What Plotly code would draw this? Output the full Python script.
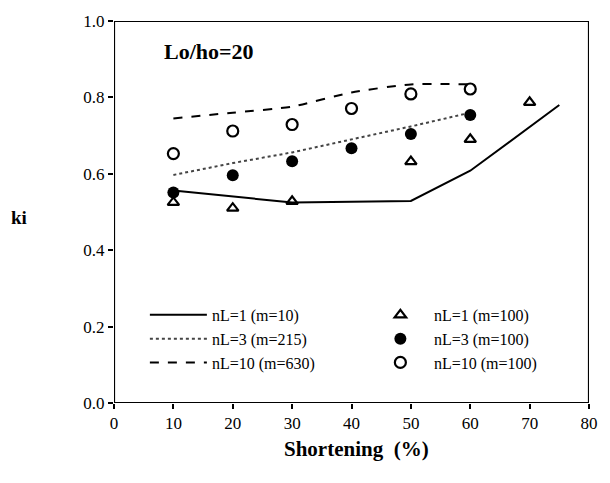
import plotly.graph_objects as go

# Model curves (lines)
x_nl1_line = [10, 30, 50, 60, 75]
y_nl1_line = [0.556, 0.525, 0.529, 0.608, 0.780]

x_nl3_line = [10, 20, 30, 40, 50, 60]
y_nl3_line = [0.597, 0.628, 0.656, 0.689, 0.724, 0.760]

x_nl10_line = [10, 20, 30, 40, 50, 60]
y_nl10_line = [0.745, 0.760, 0.776, 0.813, 0.834, 0.834]

# Simulation results (markers)
x_nl1_pts = [10, 20, 30, 50, 60, 70]
y_nl1_pts = [0.525, 0.510, 0.528, 0.632, 0.690, 0.787]

x_nl3_pts = [10, 20, 30, 40, 50, 60]
y_nl3_pts = [0.551, 0.596, 0.633, 0.667, 0.704, 0.754]

x_nl10_pts = [10, 20, 30, 40, 50, 60]
y_nl10_pts = [0.653, 0.712, 0.729, 0.771, 0.809, 0.822]

x_ticks = [0, 10, 20, 30, 40, 50, 60, 70, 80]
y_ticks = [0.0, 0.2, 0.4, 0.6, 0.8, 1.0]

SERIF = "Liberation Serif"
INK = "#000000"

x_range = [x_ticks[0], x_ticks[-1]]
y_range = [y_ticks[0], y_ticks[-1]]
x_step = x_ticks[1] - x_ticks[0]
y_step = y_ticks[1] - y_ticks[0]

fig = go.Figure()

# Box around the plotting area, traced along the axis limits
fig.add_trace(go.Scatter(
    x=[x_range[0], x_range[1], x_range[1], x_range[0], x_range[0]],
    y=[y_range[0], y_range[0], y_range[1], y_range[1], y_range[0]],
    mode="lines", line=dict(color=INK, width=2.2),
    cliponaxis=False, showlegend=False, hoverinfo="skip"))

# Trace order arranged so the horizontal legend reads as two columns
fig.add_trace(go.Scatter(x=x_nl1_line, y=y_nl1_line, mode="lines",
                         name="nL=1 (m=10)",
                         line=dict(color=INK, width=2)))
fig.add_trace(go.Scatter(x=x_nl1_pts, y=y_nl1_pts, mode="markers",
                         name="nL=1 (m=100)",
                         marker=dict(symbol="triangle-up-open", size=10,
                                     color=INK, line=dict(width=2.2))))
fig.add_trace(go.Scatter(x=x_nl3_line, y=y_nl3_line, mode="lines",
                         name="nL=3 (m=215)",
                         line=dict(color="#444444", width=2, dash="dot")))
fig.add_trace(go.Scatter(x=x_nl3_pts, y=y_nl3_pts, mode="markers",
                         name="nL=3 (m=100)",
                         marker=dict(symbol="circle", size=12, color=INK)))
fig.add_trace(go.Scatter(x=x_nl10_line, y=y_nl10_line, mode="lines",
                         name="nL=10 (m=630)", line_shape="spline",
                         line=dict(color=INK, width=2, dash="dash",
                                   smoothing=0.6)))
fig.add_trace(go.Scatter(x=x_nl10_pts, y=y_nl10_pts, mode="markers",
                         name="nL=10 (m=100)",
                         marker=dict(symbol="circle-open", size=11,
                                     color=INK, line=dict(width=2.2))))

axis_style = dict(
    showline=False, ticks="outside", ticklen=5, tickwidth=2, tickcolor=INK,
    showgrid=False, zeroline=False,
    tickfont=dict(family=SERIF, size=17, color=INK),
)

# Secondary overlay axes carry only the half-step minor ticks
minor_style = dict(
    showline=False, showgrid=False, zeroline=False, showticklabels=False,
    ticks="outside", ticklen=3, tickwidth=2, tickcolor=INK,
)

fig.update_layout(
    width=610, height=483,
    margin=dict(l=114, r=12, t=16, b=80),
    paper_bgcolor="white", plot_bgcolor="white",
    xaxis=dict(range=x_range, tickmode="linear", tick0=x_ticks[0],
               dtick=x_step, **axis_style),
    yaxis=dict(range=y_range, tickmode="linear", tick0=y_ticks[0],
               dtick=y_step, tickformat=".1f", **axis_style),
    xaxis2=dict(range=x_range, overlaying="x", anchor="y", side="bottom",
                tickmode="linear", tick0=x_ticks[0], dtick=x_step / 2,
                **minor_style),
    yaxis2=dict(range=y_range, overlaying="y", anchor="x", side="left",
                tickmode="linear", tick0=y_ticks[0], dtick=y_step / 2,
                **minor_style),
    showlegend=True,
    legend=dict(orientation="h", x=0.065, y=0.275, xanchor="left",
                yanchor="top", entrywidth=150, entrywidthmode="pixels",
                itemwidth=57, bgcolor="rgba(0,0,0,0)",
                font=dict(family=SERIF, size=16, color=INK),
                traceorder="normal"),
)

fig.add_annotation(text="<b>Lo/ho=20</b>", xref="paper", yref="paper",
                   x=0.1, y=0.92, xanchor="left", yanchor="middle",
                   showarrow=False, font=dict(family=SERIF, size=22, color=INK))
fig.add_annotation(text="<b>ki</b>", xref="paper", yref="paper",
                   x=-0.2, y=0.485, xanchor="center", yanchor="middle",
                   showarrow=False, font=dict(family=SERIF, size=19, color=INK))
fig.add_annotation(text="<b>Shortening  (%)</b>", xref="paper", yref="paper",
                   x=0.51, y=-0.12, xanchor="center", yanchor="middle",
                   showarrow=False, font=dict(family=SERIF, size=21, color=INK))

fig.write_html("out.html")
